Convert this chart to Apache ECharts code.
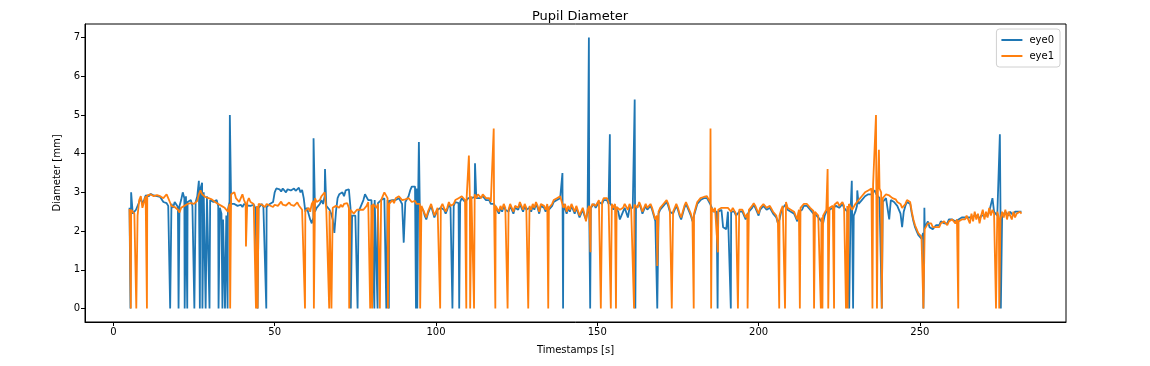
<!DOCTYPE html>
<html>
<head>
<meta charset="utf-8">
<script src="https://cdn.jsdelivr.net/npm/echarts@6/dist/echarts.min.js"></script>
<style>html,body{margin:0;padding:0;background:#fff;}#chart{width:1150px;height:366px;}</style>
</head>
<body>
<div id="chart"></div>
<script>
// Regular sampling grid of the recording (seconds)
const tStart = 5.0;
const tStep = 0.5;

// Pupil diameter [mm] on the regular grid, one row = 10 s (20 samples)
const eye0 = [
2.6,3.0,2.45,2.5,2.55,2.55,2.75,2.85,2.7,2.8,2.92,2.95,2.9,2.96,2.98,2.92,2.95,2.9,2.95,2.88,
2.85,2.75,2.7,2.72,2.65,2.6,2.7,2.6,2.75,2.7,2.62,2.65,2.8,3.0,2.85,2.9,2.75,2.7,2.8,2.65,
2.7,2.75,2.9,3.3,3.1,3.25,3.0,2.95,2.9,2.85,2.8,2.8,2.75,2.7,2.8,2.65,2.6,2.45,2.3,2.35,
2.4,2.55,2.75,2.7,2.75,2.7,2.72,2.65,2.7,2.68,2.62,2.7,2.72,2.66,2.7,2.65,2.62,2.68,2.6,2.62,
2.6,2.65,2.7,2.62,2.6,2.62,2.65,2.7,2.68,2.75,3.0,3.1,3.05,3.08,3.02,3.1,3.05,3.0,3.08,3.04,
3.05,3.0,3.1,3.04,3.08,3.12,3.0,3.06,2.85,2.5,2.6,2.45,2.3,2.2,2.35,2.5,2.6,2.55,2.7,2.8,
2.7,2.9,2.65,2.6,2.55,2.45,2.3,1.95,2.5,2.85,2.95,2.9,3.0,2.9,3.05,3.1,3.08,2.6,2.4,2.35,
2.4,2.45,2.5,2.6,2.65,2.8,2.95,2.9,2.8,2.75,2.8,2.85,2.8,2.75,2.72,2.7,2.8,2.75,2.85,2.82,
2.8,2.78,2.75,2.8,2.85,2.8,2.75,2.85,2.8,2.7,1.7,2.75,2.8,2.9,3.05,3.15,3.2,3.15,3.1,3.0,
2.55,2.6,2.55,2.4,2.3,2.45,2.55,2.65,2.5,2.35,2.45,2.55,2.5,2.6,2.65,2.55,2.45,2.55,2.7,2.6,
2.62,2.65,2.75,2.7,2.72,2.75,2.85,2.8,2.75,2.8,2.85,2.8,2.85,2.9,2.88,2.85,2.9,2.85,2.8,2.9,
2.85,2.8,2.75,2.8,2.7,2.75,2.7,2.6,2.55,2.45,2.6,2.5,2.65,2.55,2.6,2.5,2.65,2.55,2.45,2.6,
2.65,2.55,2.7,2.6,2.5,2.65,2.55,2.5,2.6,2.5,2.65,2.55,2.7,2.6,2.45,2.65,2.7,2.6,2.5,2.65,
2.55,2.6,2.65,2.75,2.7,2.8,2.75,2.85,2.8,2.7,2.65,2.45,2.6,2.5,2.65,2.55,2.45,2.6,2.55,2.35,
2.45,2.55,2.4,2.3,2.5,2.6,2.6,2.65,2.7,2.6,2.65,2.75,2.7,2.7,2.8,2.75,2.8,2.7,2.72,2.65,
2.55,2.65,2.6,2.5,2.3,2.25,2.5,2.6,2.55,2.35,2.6,2.55,2.6,2.62,2.6,2.55,2.7,2.6,2.45,2.55,
2.65,2.55,2.5,2.65,2.55,2.4,2.25,2.3,2.45,2.55,2.5,2.65,2.7,2.75,2.65,2.5,2.45,2.45,2.55,2.65,
2.55,2.4,2.3,2.45,2.6,2.7,2.65,2.5,2.4,2.25,2.4,2.55,2.7,2.75,2.8,2.75,2.85,2.8,2.85,2.8,
2.7,2.6,2.5,2.55,2.5,2.5,2.5,2.55,2.1,2.15,2.05,2.5,2.55,2.5,2.55,2.5,2.4,2.45,2.5,2.55,
2.5,2.4,2.3,2.35,2.5,2.55,2.6,2.68,2.6,2.5,2.4,2.55,2.6,2.65,2.6,2.55,2.5,2.6,2.55,2.45,
2.5,2.35,2.2,2.3,2.5,2.6,2.65,2.7,2.55,2.6,2.5,2.55,2.45,2.35,2.25,2.5,2.55,2.55,2.65,2.7,
2.65,2.6,2.55,2.5,2.45,2.45,2.4,2.35,2.3,2.3,2.2,2.4,2.5,2.55,2.55,2.55,2.6,2.6,2.65,2.7,
2.6,2.65,2.7,2.6,2.55,2.5,2.45,2.5,2.45,2.4,2.5,2.65,2.7,2.75,2.8,2.85,2.9,2.85,2.95,2.9,
2.95,3.0,3.05,2.95,2.9,2.85,2.8,2.75,2.8,2.85,2.8,2.3,2.8,2.78,2.75,2.7,2.65,2.6,2.45,2.1,
2.5,2.65,2.75,2.8,2.7,2.45,2.25,2.1,2.0,1.9,1.85,1.8,1.95,2.1,2.05,2.25,2.1,2.15,2.05,2.1,
2.15,2.2,2.15,2.25,2.2,2.2,2.25,2.2,2.3,2.25,2.3,2.3,2.25,2.3,2.3,2.3,2.35,2.3,2.35,2.35,
2.35,2.3,2.35,2.3,2.4,2.35,2.4,2.3,2.4,2.45,2.4,2.45,2.4,2.5,2.55,2.85,2.5,2.45,2.4,2.45,
2.45,2.4,2.4,2.5,2.45,2.4,2.5,2.45,2.4,2.5,2.45,2.5,2.45,2.5
];

const eye1 = [
2.57,2.55,2.5,2.45,2.5,2.4,2.8,2.9,2.6,2.75,2.9,2.92,2.9,2.95,2.97,2.9,2.95,2.93,2.96,2.9,
2.9,2.85,2.8,2.95,2.85,2.75,2.65,2.6,2.62,2.58,2.55,2.48,2.6,2.58,2.65,2.62,2.7,2.65,2.72,2.68,
2.7,2.72,2.78,2.95,3.05,2.95,2.92,2.88,2.9,2.85,2.88,2.82,2.85,2.75,2.8,2.7,2.72,2.65,2.7,2.6,
2.55,2.5,2.7,2.95,2.9,3.0,2.85,2.9,2.75,2.85,2.95,2.8,2.7,2.75,2.85,2.75,2.8,2.7,2.68,2.65,
2.7,2.75,2.68,2.72,2.62,2.7,2.74,2.66,2.7,2.62,2.68,2.72,2.65,2.7,2.76,2.68,2.72,2.66,2.7,2.74,
2.68,2.72,2.65,2.7,2.74,2.66,2.62,2.55,2.5,2.52,2.55,2.6,2.5,2.7,2.78,2.85,2.75,2.7,2.8,2.9,
2.95,3.0,2.55,2.5,2.52,2.55,2.6,2.55,2.65,2.7,2.6,2.68,2.62,2.7,2.65,2.72,2.6,2.55,2.5,2.45,
2.5,2.55,2.5,2.55,2.6,2.55,2.6,2.65,2.75,2.7,2.68,2.7,2.65,2.6,2.7,2.75,2.8,2.9,3.0,2.95,
2.85,2.7,2.75,2.8,2.72,2.85,2.8,2.9,2.85,2.8,2.75,2.82,2.78,2.85,2.8,2.75,2.8,2.78,2.7,2.75,
2.7,2.65,2.6,2.45,2.35,2.5,2.6,2.7,2.55,2.4,2.5,2.6,2.55,2.62,2.7,2.6,2.5,2.6,2.75,2.65,
2.6,2.7,2.8,2.75,2.85,2.8,2.9,2.85,2.8,2.85,2.9,2.88,2.9,2.92,2.95,2.85,2.95,2.9,2.85,2.95,
2.9,2.85,2.8,2.85,2.75,2.8,2.75,2.65,2.6,2.5,2.65,2.55,2.7,2.6,2.58,2.55,2.7,2.6,2.5,2.65,
2.7,2.6,2.75,2.65,2.55,2.7,2.6,2.62,2.65,2.55,2.7,2.6,2.75,2.65,2.5,2.7,2.75,2.65,2.55,2.7,
2.6,2.65,2.7,2.8,2.75,2.85,2.8,2.9,2.85,2.6,2.7,2.5,2.65,2.55,2.7,2.6,2.5,2.65,2.6,2.4,
2.5,2.6,2.45,2.25,2.55,2.65,2.6,2.7,2.75,2.65,2.7,2.8,2.78,2.75,2.85,2.8,2.85,2.75,2.72,2.7,
2.6,2.7,2.62,2.65,2.55,2.5,2.6,2.7,2.65,2.55,2.7,2.6,2.65,2.68,2.7,2.6,2.75,2.65,2.5,2.6,
2.7,2.6,2.55,2.7,2.6,2.45,2.3,2.4,2.5,2.6,2.55,2.7,2.75,2.8,2.7,2.55,2.52,2.5,2.6,2.7,
2.6,2.45,2.35,2.5,2.65,2.75,2.7,2.55,2.45,2.3,2.45,2.6,2.75,2.8,2.85,2.8,2.88,2.85,2.9,2.82,
2.75,2.6,2.5,2.6,2.55,2.55,2.55,2.6,2.58,2.6,2.55,2.6,2.58,2.5,2.6,2.55,2.45,2.5,2.55,2.6,
2.55,2.45,2.35,2.45,2.55,2.6,2.65,2.72,2.65,2.55,2.45,2.6,2.65,2.7,2.65,2.6,2.55,2.65,2.6,2.5,
2.55,2.4,2.2,2.4,2.55,2.65,2.7,2.75,2.6,2.65,2.55,2.6,2.5,2.4,2.3,2.55,2.6,2.6,2.7,2.75,
2.7,2.65,2.6,2.55,2.52,2.5,2.45,2.4,2.38,2.35,2.4,2.45,2.55,2.58,2.6,2.6,2.65,2.68,2.7,2.75,
2.65,2.7,2.75,2.65,2.6,2.65,2.7,2.65,2.55,2.6,2.7,2.75,2.8,2.85,2.9,2.95,3.0,2.95,3.05,3.0,
3.1,3.2,3.25,3.2,3.15,3.1,3.0,2.85,2.9,2.95,2.9,2.92,2.88,2.85,2.8,2.82,2.75,2.72,2.7,2.6,
2.55,2.7,2.8,2.85,2.75,2.5,2.3,2.15,2.05,1.95,1.9,1.85,1.9,2.05,2.1,2.2,2.15,2.2,2.1,2.15,
2.1,2.15,2.1,2.2,2.15,2.25,2.2,2.15,2.25,2.2,2.3,2.25,2.2,2.3,2.25,2.25,2.3,2.35,2.3,2.4,
2.35,2.2,2.45,2.25,2.5,2.3,2.45,2.2,2.4,2.55,2.3,2.5,2.35,2.6,2.4,2.55,2.45,2.4,2.5,2.35,
2.3,2.5,2.35,2.55,2.3,2.5,2.4,2.3,2.5,2.35,2.45,2.4,2.5,2.45
];

// Short events between grid samples: [time s, diameter mm] (blink dropouts and spikes)
const eye0Events = [
[5.3,0],[17.6,0],[20.2,0],[22.1,0],[22.9,0],[25.1,0],[26.8,0],[27.6,0],[28.6,0],[29.8,0],
[32.6,0],[33.8,0],[34.6,0],[35.4,0],[36.1,5.0],[44.7,0],[47.4,0],[62.05,4.4],[65.6,3.6],
[73.6,0],[75.7,0],[80.9,0],[81.9,0],[84.6,0],[85.4,0],[93.8,0],[94.2,0],[94.7,4.3],
[105.1,0],[107.2,0],[112.1,3.75],[139.2,3.5],[139.4,0],[147.4,7.0],[147.8,0],[153.9,4.5],
[161.6,5.4],[161.8,0],[168.6,0],[187.3,0],[191.4,0],[228.1,0],[228.9,3.3],[229.3,0],
[230.6,3.05],[238.2,0],[251.1,0],[251.4,2.6],[274.8,4.5],[275.1,0]
];
const eye1Events = [
[5.4,0],[7.1,0],[10.4,0],[36.2,0],[41.1,1.6],[44.2,0],[44.7,0],[59.4,0],[62.15,0],[66.9,0],
[67.6,0],[73.1,0],[79.6,0],[80.2,0],[82.6,0],[85.1,0],[95.1,0],[101.3,0],[109.4,0],[110.2,3.95],
[110.6,0],[111.8,0],[117.9,4.65],[118.4,0],[122.2,0],[128.6,0],[134.8,0],[147.9,1.45],[151.1,0],
[154.2,0],[155.8,0],[161.4,0],[168.6,1.1],[173.1,0],[179.9,0],[185.1,4.65],[185.3,0],[187.4,1.45],
[193.6,0],[196.6,0],[206.4,0],[208.2,0],[212.8,0],[217.2,0],[219.3,0],[219.8,0],[221.4,3.6],
[221.6,0],[223.4,0],[227.1,0],[227.6,0],[235.3,0],[236.4,5.0],[236.7,0],[237.3,4.1],[238.2,0],
[251.1,0],[261.9,0],[273.6,0],[274.6,0]
];

const xTicks = [0, 50, 100, 150, 200, 250];
const yTicks = [0, 1, 2, 3, 4, 5, 6, 7];
const seriesNames = ['eye0', 'eye1'];

const build = (vals, events) => vals.map((v, i) => [tStart + i * tStep, v])
  .concat(events).sort((a, b) => a[0] - b[0]);

const FONT = 'DejaVu Sans';
const chart = echarts.init(document.getElementById('chart'), null, {renderer: 'canvas'});
chart.setOption({
  animation: false,
  backgroundColor: '#fff',
  textStyle: {fontFamily: FONT},
  title: {
    text: 'Pupil Diameter',
    left: 575, top: 5, textAlign: 'center',
    textStyle: {fontFamily: FONT, fontSize: 13, fontWeight: 'normal', color: '#000'}
  },
  grid: {
    left: 85, right: 84, top: 24, bottom: 44,
    show: true, borderColor: '#000', borderWidth: 1, backgroundColor: 'transparent'
  },
  legend: {
    data: seriesNames,
    orient: 'vertical',
    right: 90, top: 29,
    icon: 'rect', itemWidth: 21, itemHeight: 2, itemGap: 6,
    padding: [6, 6, 6, 5],
    borderColor: '#d0d0d0', borderWidth: 1, borderRadius: 3,
    backgroundColor: 'rgba(255,255,255,0.8)',
    textStyle: {fontFamily: FONT, fontSize: 10, color: '#000', padding: [0, 0, 0, 2]}
  },
  xAxis: {
    type: 'value', min: -8.8, max: 295.3,
    name: 'Timestamps [s]', nameLocation: 'middle', nameGap: 23,
    nameTextStyle: {fontFamily: FONT, fontSize: 10, color: '#000'},
    axisLine: {show: true, onZero: false, lineStyle: {color: '#000', width: 1}},
    axisTick: {show: true, length: 4, lineStyle: {color: '#000'}, customValues: xTicks},
    axisLabel: {fontFamily: FONT, fontSize: 10, color: '#000', margin: 5, customValues: xTicks},
    splitLine: {show: false}
  },
  yAxis: {
    type: 'value', min: -0.35, max: 7.35,
    name: 'Diameter [mm]', nameLocation: 'middle', nameGap: 21, nameRotate: 90,
    nameTextStyle: {fontFamily: FONT, fontSize: 10, color: '#000'},
    axisLine: {show: true, onZero: false, lineStyle: {color: '#000', width: 1}},
    axisTick: {show: true, length: 4, lineStyle: {color: '#000'}, customValues: yTicks},
    axisLabel: {fontFamily: FONT, fontSize: 10, color: '#000', margin: 5, customValues: yTicks},
    splitLine: {show: false}
  },
  series: [
    {name: seriesNames[0], type: 'line', data: build(eye0, eye0Events), showSymbol: false, symbol: 'none',
     sampling: null, color: '#1f77b4', lineStyle: {width: 1.8, color: '#1f77b4'}, z: 2},
    {name: seriesNames[1], type: 'line', data: build(eye1, eye1Events), showSymbol: false, symbol: 'none',
     sampling: null, color: '#ff7f0e', lineStyle: {width: 1.8, color: '#ff7f0e'}, z: 3}
  ]
});
</script>
</body>
</html>
